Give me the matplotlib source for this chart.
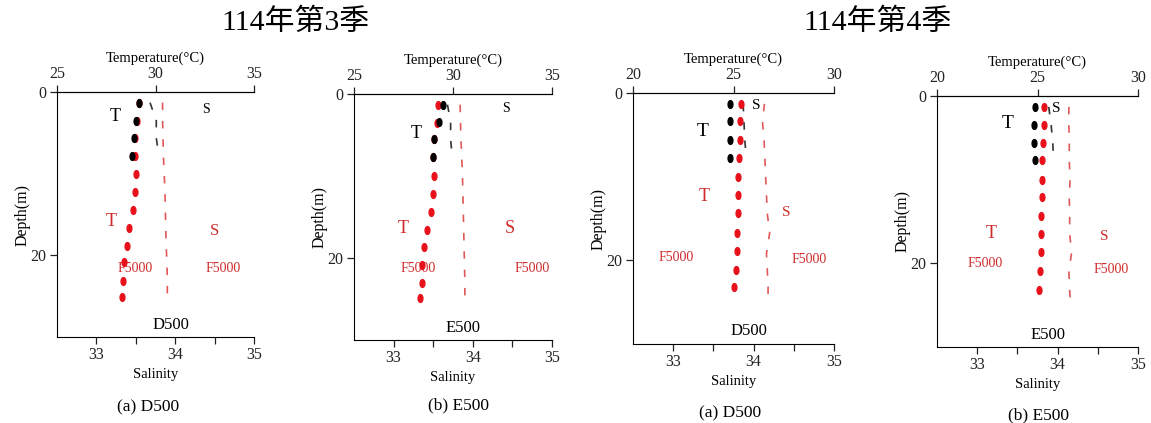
import numpy as np
import matplotlib.pyplot as plt

# ---- data ----
# 114 Q3, D500
q3d_depth_black = [1.3, 3.5, 5.6, 7.8]
q3d_temp_black = [29.15, 29.03, 28.93, 28.80]
q3d_sal_black = [33.68, 33.76, 33.76, 33.79]
q3d_depth_red = [1.3, 3.5, 5.6, 7.8, 10.0, 12.2, 14.4, 16.6, 18.8, 20.8, 23.1, 25.1]
q3d_temp_red = [29.18, 29.08, 28.96, 28.96, 29.00, 28.96, 28.85, 28.68, 28.54, 28.41, 28.37, 28.32]
q3d_sal_red = [33.84, 33.84, 33.845, 33.85, 33.86, 33.87, 33.875, 33.88, 33.885, 33.895, 33.90, 33.90]

# 114 Q3, E500
q3e_depth_black = [1.3, 3.4, 5.5, 7.7]
q3e_temp_black = [29.50, 29.30, 29.05, 28.97]
q3e_sal_black = [33.68, 33.72, 33.72, 33.74]
q3e_depth_red = [1.3, 3.5, 5.5, 7.7, 10.0, 12.2, 14.4, 16.6, 18.7, 20.8, 23.0, 24.9]
q3e_temp_red = [29.23, 29.17, 29.05, 29.00, 29.03, 29.00, 28.87, 28.70, 28.55, 28.45, 28.42, 28.33]
q3e_sal_red = [33.84, 33.845, 33.85, 33.86, 33.87, 33.875, 33.88, 33.885, 33.89, 33.895, 33.90, 33.90]

# 114 Q4, D500
q4d_depth_black = [1.3, 3.4, 5.6, 7.8]
q4d_temp_black = [24.84, 24.84, 24.84, 24.84]
q4d_sal_black = [33.87, 33.88, 33.89, 33.91]
q4d_depth_red = [1.3, 3.4, 5.6, 7.8, 10.0, 12.2, 14.4, 16.7, 18.9, 21.1, 23.2]
q4d_temp_red = [25.37, 25.34, 25.31, 25.26, 25.22, 25.21, 25.21, 25.17, 25.16, 25.12, 25.04]
q4d_sal_depth_red = [1.3, 3.4, 5.6, 7.8, 10.0, 12.2, 14.4, 16.7, 19.2, 21.1, 23.2, 25.0]
q4d_sal_red = [34.135, 34.11, 34.13, 34.14, 34.15, 34.16, 34.17, 34.20, 34.16, 34.17, 34.18, 34.18]

# 114 Q4, E500
q4e_depth_black = [1.3, 3.5, 5.6, 7.7]
q4e_temp_black = [24.88, 24.84, 24.84, 24.86]
q4e_sal_black = [33.89, 33.92, 33.94, 33.95]
q4e_depth_red = [1.3, 3.5, 5.6, 7.7, 10.0, 12.1, 14.3, 16.5, 18.7, 20.9, 23.2]
q4e_temp_red = [25.32, 25.32, 25.29, 25.24, 25.22, 25.21, 25.19, 25.17, 25.16, 25.14, 25.06]
q4e_sal_depth_red = [1.3, 3.5, 5.6, 7.7, 10.0, 12.1, 14.3, 16.5, 18.7, 20.9, 23.2, 25.0]
q4e_sal_red = [34.14, 34.14, 34.145, 34.145, 34.155, 34.145, 34.15, 34.15, 34.175, 34.14, 34.15, 34.16]

titles = ["114年第3季", "114年第4季"]
captions = ["(a) D500", "(b) E500", "(a) D500", "(b) E500"]
stations = ["D500", "E500", "D500", "E500"]

SERIF = "Liberation Serif"
RED_DOT = "#e8101a"
RED_TXT = "#cf2a2a"
RED_LINE = "#e05858"

plt.rcParams["font.family"] = [SERIF, "Noto Sans CJK TC", "DejaVu Sans"]

t = np.linspace(0, 2 * np.pi, 40)
ellipse = list(zip(0.62 * np.cos(t), np.sin(t)))


def draw_panel(fig, rect, tlim, db, tb, sb, dr, tr, sdr, sr, station, caption,
               cap_xy, labels):
    ax = fig.add_axes(rect)
    ax2 = ax.twiny()

    ax.set_xlim(32.5, 35)
    ax.set_ylim(30, 0)
    ax2.set_xlim(*tlim)
    ax2.set_ylim(30, 0)

    for a in (ax, ax2):
        a.spines["right"].set_visible(False)
        a.set_facecolor("none")
    ax2.spines["bottom"].set_visible(False)
    ax2.spines["left"].set_visible(False)

    ax.set_xticks([33, 33.5, 34, 34.5, 35], labels=["33", "", "34", "", "35"])
    ax.set_yticks([0, 20])
    ax2.set_xticks([tlim[0], (tlim[0] + tlim[1]) / 2, tlim[1]])
    for a in (ax, ax2):
        a.tick_params(direction="out", length=5, width=0.9, labelsize=11.5,
                      pad=2.5, colors="#222222")
    ax.set_xlabel("Salinity", fontsize=10.5, labelpad=3)
    ax.set_ylabel("Depth(m)", fontsize=11.5, labelpad=0)
    ax2.set_xlabel("Temperature(°C)", fontsize=10.5, labelpad=3)

    # salinity (dashed, bottom axis)
    ax.plot(sr, sdr, color=RED_LINE, lw=1.2, linestyle=(0, (4.5, 6.5)))
    ax.plot(sb, db, color="#333333", lw=1.2, linestyle=(0, (4.5, 6.5)))
    # temperature (dots, top axis)
    ax2.plot(tr, dr, linestyle="none", marker=ellipse, ms=5.6,
             color=RED_DOT, mec=RED_DOT)
    ax2.plot(tb, db, linestyle="none", marker=ellipse, ms=5.6,
             color="black", mec="black")

    (tbk, sbk, trd, srd, f1, f2, st, sz) = labels
    ax.text(*tbk, "T", transform=ax.transAxes, fontsize=sz[0],
            ha="center", va="center")
    ax.text(*sbk, "S", transform=ax.transAxes, fontsize=sz[1],
            ha="center", va="center")
    ax.text(*trd, "T", transform=ax.transAxes, fontsize=sz[2],
            ha="center", va="center", color=RED_TXT)
    ax.text(*srd, "S", transform=ax.transAxes, fontsize=sz[3],
            ha="center", va="center", color=RED_TXT)
    ax.text(*f1, "F5000", transform=ax.transAxes, fontsize=10,
            ha="center", va="center", color=RED_TXT)
    ax.text(*f2, "F5000", transform=ax.transAxes, fontsize=10,
            ha="center", va="center", color=RED_TXT)
    ax.text(*st, station, transform=ax.transAxes, fontsize=12,
            ha="center", va="center")
    fig.text(cap_xy[0] / 1151, 1 - cap_xy[1] / 423, caption, fontsize=12.5,
             ha="center", va="center")


def rect_px(left, top, right, bottom):
    return [left / 1151, 1 - bottom / 423, (right - left) / 1151, (bottom - top) / 423]


fig = plt.figure(figsize=(11.51, 4.23), dpi=100)

draw_panel(fig, rect_px(57, 92, 254, 337), (25, 35),
           q3d_depth_black, q3d_temp_black, q3d_sal_black,
           q3d_depth_red, q3d_temp_red, q3d_depth_red, q3d_sal_red,
           stations[0], captions[0], (148, 407),
           ((0.294, 0.902), (0.756, 0.927), (0.274, 0.473), (0.802, 0.433),
            (0.396, 0.278), (0.843, 0.278), (0.579, 0.049), (13, 10, 13, 12)))

draw_panel(fig, rect_px(354, 94, 552, 340), (25, 35),
           q3e_depth_black, q3e_temp_black, q3e_sal_black,
           q3e_depth_red, q3e_temp_red, q3e_depth_red, q3e_sal_red,
           stations[1], captions[1], (458, 405),
           ((0.313, 0.841), (0.768, 0.943), (0.247, 0.455), (0.788, 0.455),
            (0.323, 0.289), (0.899, 0.289), (0.551, 0.049), (13, 10, 13, 13)))

draw_panel(fig, rect_px(633, 93, 834, 344), (20, 30),
           q4d_depth_black, q4d_temp_black, q4d_sal_black,
           q4d_depth_red, q4d_temp_red, q4d_sal_depth_red, q4d_sal_red,
           stations[2], captions[2], (730, 413),
           ((0.348, 0.845), (0.612, 0.952), (0.353, 0.586), (0.761, 0.522),
            (0.214, 0.343), (0.876, 0.335), (0.577, 0.052), (14, 11, 13, 11)))

draw_panel(fig, rect_px(937, 96, 1138, 347), (20, 30),
           q4e_depth_black, q4e_temp_black, q4e_sal_black,
           q4e_depth_red, q4e_temp_red, q4e_sal_depth_red, q4e_sal_red,
           stations[3], captions[3], (1038, 415),
           ((0.353, 0.892), (0.592, 0.952), (0.269, 0.454), (0.831, 0.442),
            (0.239, 0.331), (0.866, 0.307), (0.552, 0.048), (14, 11, 13, 11)))

fig.text(295 / 1151, 1 - 22 / 423, titles[0], fontsize=21.5, ha="center", va="center")
fig.text(877 / 1151, 1 - 22 / 423, titles[1], fontsize=21.5, ha="center", va="center")

fig.savefig("out.png", dpi=100)
